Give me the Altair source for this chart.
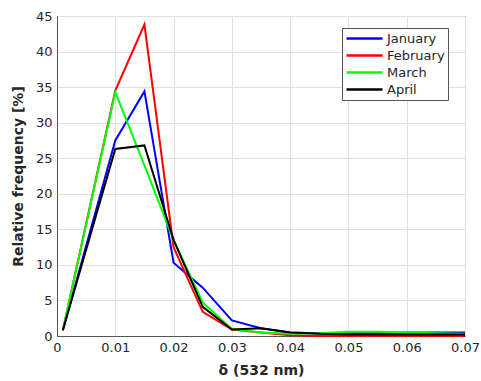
import altair as alt
import pandas as pd

x_vals = [0.001, 0.01, 0.015, 0.02, 0.025, 0.03, 0.035, 0.04, 0.045, 0.05, 0.055, 0.06, 0.065, 0.07]
january = [0.8, 27.5, 34.4, 10.3, 6.8, 2.2, 1.1, 0.5, 0.4, 0.4, 0.4, 0.5, 0.5, 0.5]
february = [0.8, 34.5, 43.8, 12.5, 3.4, 0.9, 0.5, 0.1, 0.0, 0.0, 0.0, 0.0, 0.0, 0.0]
march = [0.8, 34.3, 24.0, 13.5, 4.7, 1.0, 0.5, 0.3, 0.4, 0.6, 0.6, 0.5, 0.4, 0.3]
april = [0.8, 26.3, 26.8, 13.5, 4.1, 0.9, 1.1, 0.5, 0.3, 0.2, 0.2, 0.2, 0.2, 0.2]

months = ["January", "February", "March", "April"]
colors = ["#0000ff", "#ff0000", "#00ff00", "#000000"]
series = [january, february, march, april]

rows = []
for i, (m, vals) in enumerate(zip(months, series)):
    for xv, yv in zip(x_vals, vals):
        rows.append({"x": xv, "y": yv, "month": m, "order": i})
df = pd.DataFrame(rows)

font = "DejaVu Sans"

chart = alt.Chart(df).mark_line(strokeWidth=2).encode(
    x=alt.X("x:Q", scale=alt.Scale(domain=[0, 0.07], nice=False),
            axis=alt.Axis(title="δ (532 nm)", values=[0, 0.01, 0.02, 0.03, 0.04, 0.05, 0.06, 0.07],
                          format="~g", labelFlush=False)),
    y=alt.Y("y:Q", scale=alt.Scale(domain=[0, 45], nice=False),
            axis=alt.Axis(title="Relative frequency [%]", values=list(range(0, 46, 5)))),
    color=alt.Color("month:N", scale=alt.Scale(domain=months, range=colors),
                    legend=alt.Legend(title=None, orient="none", legendX=285, legendY=12,
                                      symbolType="M-1,0L5,0", symbolSize=144, symbolStrokeWidth=2.5,
                                      labelFont=font, labelFontSize=13, labelColor="#262626",
                                      strokeColor="#555555", fillColor="white",
                                      padding=3, rowPadding=2, labelOffset=27)),
    order=alt.Order("order:Q"),
).properties(
    width=408, height=320,
    autosize=alt.AutoSizeParams(type="none"),
    padding={"left": 57, "top": 16, "right": 16, "bottom": 45},
).configure_axis(
    labelFont=font, labelFontSize=13, labelColor="#262626",
    titleFont=font, titleFontSize=14, titleFontWeight="bold", titleColor="#262626",
    gridColor="#e0e0e0", gridWidth=1,
    domainColor="#555555", tickColor="#555555", tickSize=0, labelPadding=5,
).configure_axisY(titlePadding=10).configure_axisX(titlePadding=9).configure_view(
    stroke="#555555", strokeWidth=1
)

chart.save("out.html", embed_options={"renderer": "svg", "actions": False})
